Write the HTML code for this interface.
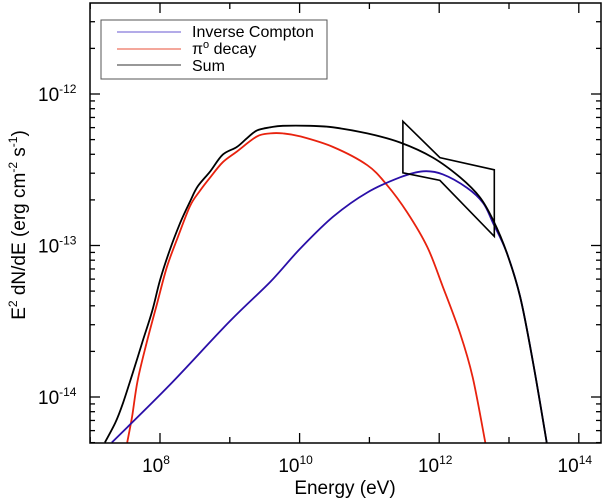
<!DOCTYPE html>
<html><head><meta charset="utf-8"><style>
body{margin:0;background:#fff;}
svg{display:block;font-family:"Liberation Sans",Arial,sans-serif;}
</style></head><body>
<svg id="chart" width="603" height="500" viewBox="0 0 603 500" xmlns="http://www.w3.org/2000/svg">
<rect x="0" y="0" width="603" height="500" fill="#fff"/>
<g id="ticks"></g>
<g id="curves"></g>
<rect x="90" y="3" width="511" height="440" fill="none" stroke="#000" stroke-width="1.5"/>
<g>
<rect x="101" y="20" width="226" height="59" fill="#fff" stroke="#555" stroke-width="1"/>
<line x1="117" y1="32" x2="181" y2="32" stroke="#9a8fe0" stroke-width="1.5"/>
<text x="192" y="37" font-size="16">Inverse Compton</text>
<line x1="117" y1="49" x2="181" y2="49" stroke="#f08a7a" stroke-width="1.5"/>
<text x="192" y="54" font-size="16">π<tspan dy="-6" font-size="11">o</tspan><tspan dy="6"> decay</tspan></text>
<line x1="117" y1="65" x2="181" y2="65" stroke="#777" stroke-width="1.5"/>
<text x="192" y="71" font-size="16">Sum</text>
</g>
<text x="345" y="494" font-size="19" text-anchor="middle">Energy (eV)</text>
<text transform="translate(25,225) rotate(-90)" font-size="19" text-anchor="middle">E<tspan dy="-8" font-size="12">2</tspan><tspan dy="8"> dN/dE (erg cm</tspan><tspan dy="-8" font-size="12">-2</tspan><tspan dy="8"> s</tspan><tspan dy="-8" font-size="12">-1</tspan><tspan dy="8">)</tspan></text>
<g id="labels"></g>
</svg>
<script>
// data (log10 energy in eV, log10 flux in erg cm^-2 s^-1)
const xTickExps = [8, 10, 12, 14];
const yTickExps = [-12, -13, -14];
const sumLogE = [7.21,7.36,7.47,7.61,7.76,7.89,8.00,8.14,8.29,8.43,8.54,8.72,8.90,9.10,9.25,9.39,9.58,9.76,10.15,10.48,10.97,11.44,11.91,12.30,12.58,12.77,12.97,13.16,13.34,13.54];
const sumLogF = [-14.30,-14.17,-14.04,-13.84,-13.62,-13.43,-13.23,-13.03,-12.85,-12.71,-12.61,-12.51,-12.40,-12.35,-12.29,-12.24,-12.22,-12.21,-12.21,-12.22,-12.26,-12.32,-12.42,-12.55,-12.68,-12.83,-13.05,-13.34,-13.76,-14.30];
const piLogE = [7.53,7.60,7.68,7.81,7.96,8.10,8.26,8.43,8.57,8.72,8.90,9.10,9.39,9.58,9.76,10.01,10.48,10.97,11.25,11.54,11.83,12.05,12.30,12.48,12.66];
const piLogF = [-14.30,-14.13,-13.89,-13.64,-13.38,-13.14,-12.94,-12.74,-12.64,-12.55,-12.45,-12.38,-12.28,-12.26,-12.26,-12.28,-12.35,-12.47,-12.60,-12.78,-13.01,-13.27,-13.58,-13.87,-14.30];
const icLogE = [7.31,8.14,9.00,9.58,10.01,10.48,10.97,11.44,11.77,12.05,12.40,12.63,12.77,12.97,13.16,13.34,13.54];
const icLogF = [-14.30,-13.92,-13.50,-13.24,-13.02,-12.81,-12.65,-12.55,-12.51,-12.53,-12.62,-12.72,-12.85,-13.05,-13.34,-13.76,-14.30];
const bowLogE = [11.48,12.01,12.79,12.79,12.01,11.48];
const bowLogF = [-12.18,-12.42,-12.50,-12.94,-12.57,-12.52];

const NS = "http://www.w3.org/2000/svg";
const X0 = 90, X1 = 601, Y0 = 3, Y1 = 443;
function xs(le){ return 160 + (le - 8) * 69.8; }
function ys(lf){ return 94 + (-12 - lf) * 151.5; }
function mk(tag, attrs, parent){ const e = document.createElementNS(NS, tag); for (const k in attrs) e.setAttribute(k, attrs[k]); parent.appendChild(e); return e; }

const tg = document.getElementById('ticks');
for (let d = 7; d <= 14; d++) {
  const x = xs(d); if (x < X0 || x > X1) continue;
  const len = (d % 2 === 0) ? 10 : 6;
  const t1 = mk('line', {x1:x, y1:Y1, x2:x, y2:Y1-len, stroke:'#000', 'stroke-width':1.3}, tg);
  
  
  const t2 = mk('line', {x1:x, y1:Y0, x2:x, y2:Y0+len, stroke:'#000', 'stroke-width':1.3}, tg);
  
  
}
for (let d = -15; d <= -11; d++) {
  for (let m = 1; m <= 9; m++) {
    const y = ys(d + Math.log10(m)); if (y < Y0 || y > Y1) continue;
    const len = m === 1 ? 10 : 5;
    const a = mk('line', {x1:X0, y1:y, x2:X0+len, y2:y, stroke:'#000', 'stroke-width':1.3}, tg);
    
    
    const b = mk('line', {x1:X1, y1:y, x2:X1-len, y2:y, stroke:'#000', 'stroke-width':1.3}, tg);
    
    
  }
}
const lg = document.getElementById('labels');
xTickExps.forEach(d => {
  const t = mk('text', {x:xs(d)-4, y:472, 'font-size':19, 'text-anchor':'middle'}, lg);
  
  
  t.innerHTML = '10<tspan dy="-8" font-size="12">' + d + '</tspan>';
});
yTickExps.forEach(d => {
  const t = mk('text', {x:38, y:ys(d)+7, 'font-size':19}, lg);
  
  
  t.innerHTML = '10<tspan dy="-8" font-size="12">' + d + '</tspan>';
});
const cg = document.getElementById('curves');
function smooth(le, lf){
  const p = le.map((v,i)=>[xs(v), ys(lf[i])]);
  let d = 'M' + p[0][0].toFixed(1) + ',' + p[0][1].toFixed(1);
  for (let i = 0; i < p.length - 1; i++) {
    const a = p[i-1] || p[i], b = p[i], c = p[i+1], e = p[i+2] || c;
    const c1 = [b[0] + (c[0]-a[0])/6, b[1] + (c[1]-a[1])/6];
    const c2 = [c[0] - (e[0]-b[0])/6, c[1] - (e[1]-b[1])/6];
    d += ' C' + c1[0].toFixed(1) + ',' + c1[1].toFixed(1) + ' ' + c2[0].toFixed(1) + ',' + c2[1].toFixed(1) + ' ' + c[0].toFixed(1) + ',' + c[1].toFixed(1);
  }
  return d;
}
function poly(le, lf){ return le.map((v,i)=>(i?'L':'M')+xs(v).toFixed(1)+','+ys(lf[i]).toFixed(1)).join(' ') + ' Z'; }
const clip = mk('clipPath', {id:'pc'}, cg); mk('rect', {x:X0, y:Y0, width:X1-X0, height:Y1-Y0}, clip);
const pi = mk('path', {d:smooth(piLogE, piLogF), fill:'none', stroke:'#e8220e', 'stroke-width':1.8, 'clip-path':'url(#pc)'}, cg);


const ic = mk('path', {d:smooth(icLogE, icLogF), fill:'none', stroke:'#2a0fa8', 'stroke-width':1.8, 'clip-path':'url(#pc)'}, cg);


const sm = mk('path', {d:smooth(sumLogE, sumLogF), fill:'none', stroke:'#000', 'stroke-width':1.8, 'clip-path':'url(#pc)'}, cg);


const bw = mk('path', {d:poly(bowLogE, bowLogF), fill:'none', stroke:'#000', 'stroke-width':1.6}, cg);


</script>
</body></html>
